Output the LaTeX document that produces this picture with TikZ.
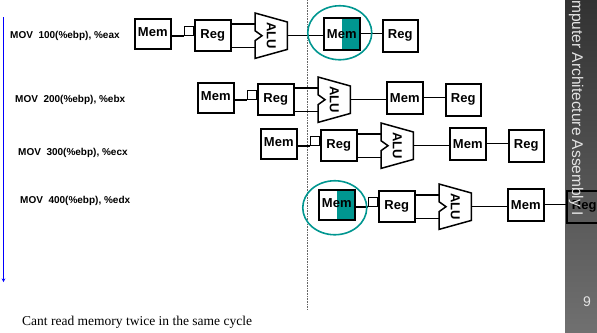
\documentclass[tikz,border=0pt]{standalone}
\usepackage{fontspec}
\setmainfont{Liberation Serif}
\setsansfont{Liberation Sans}
\usepackage{graphicx}
\usetikzlibrary{calc,shapes.geometric,arrows.meta}
\definecolor{tealc}{RGB}{0,150,144}
\definecolor{sidetop}{RGB}{50,50,50}
\definecolor{sidebot}{RGB}{112,112,112}
\definecolor{sidetext}{RGB}{228,228,228}
\newcommand\boxfont{\sffamily\bfseries\fontsize{13bp}{15bp}\selectfont}
\newcommand\instrfont{\sffamily\bfseries\fontsize{10bp}{12bp}\selectfont}
\tikzset{
  box/.style={draw, line width=1.5bp, minimum width=36bp, minimum height=31bp,
    inner sep=0pt, anchor=north west, font=\boxfont},
  hot/.style={path picture={\fill[tealc] (path picture bounding box.north)
    rectangle (path picture bounding box.south east);}},
  sqbox/.style={draw, line width=1.3bp, minimum width=9bp, minimum height=9bp, inner sep=0pt},
  alubox/.style={minimum width=32bp, minimum height=45bp, inner sep=0pt,
    anchor=north west, font=\boxfont},
  wire/.style={line width=1.3bp},
  aluline/.style={line width=1.5bp, line join=miter},
  hring/.style={draw=tealc, line width=1.6bp, ellipse, minimum width=64bp,
    minimum height=54bp, inner sep=0pt},
  instr/.style={anchor=west, inner sep=0pt, font=\instrfont},
}
\newcommand\pipeline[5]{%
  \node[box, minimum height=30bp, #4] (#1ma) at (#2,#3) {\raisebox{2.5bp}{Mem}};
  \node[box] (#1ra) at ({#2+60},{#3+1}) {Reg};
  \node[sqbox, anchor=south east] (#1sq) at ($(#1ra.north west)+(0,17)$) {};
  \node[alubox] (#1alu) at ({#2+121},{#3-5}) {\rotatebox{-90}{ALU}};
  \node[box, minimum height=32bp, #5] (#1mb) at ({#2+189},{#3-1}) {Mem};
  \node[box, minimum width=35bp, minimum height=32bp] (#1rb) at ({#2+248},{#3+1}) {Reg};
  \draw[wire] ($(#1ma.north east)+(0,18)$) -- (#1sq.south west);
  \path ($(#1ra.north east)+(0,5)$) coordinate (#1o1)
        ($(#1ra.south east)+(0,-4)$) coordinate (#1o2);
  \draw[wire] (#1o1) -- (#1o1 -| #1alu.west);
  \draw[wire] (#1o2) -- (#1o2 -| #1alu.west);
  \draw[aluline] (#1alu.north west) -- ($(#1alu.north east)+(0,9)$)
    -- ($(#1alu.south east)+(0,-9)$) -- (#1alu.south west)
    -- ($(#1alu.west)+(0,5)$) -- ($(#1alu.west)+(7,0)$)
    -- ($(#1alu.west)+(0,-5)$) -- cycle;
  \draw[wire] (#1alu.east) -- (#1alu.east -| #1mb.west);
  \draw[wire] (#1mb.east) -- (#1mb.east -| #1rb.west);
}
\begin{document}
\begin{tikzpicture}[x=1bp, y=-1bp]
  \useasboundingbox (0,0) rectangle (597,332);
  \clip (0,0) rectangle (597,332);
  % sidebar background
  \shade[top color=sidetop, bottom color=sidebot] (565,0) rectangle (597,332);
  % time arrow
  \coordinate (tatop) at (3.5,17);
  \coordinate (tabot) at (3.5,282);
  \draw[blue, line width=1.6bp, -{Stealth[length=3.5bp,width=3.5bp]}] (tatop) -- (tabot);
  % cycle divider
  \coordinate (dtop) at (307,0);
  \coordinate (dbot) at (307,310);
  \draw[gray!80!black, line width=0.6bp, dash pattern=on 0.8bp off 0.8bp] (dtop) -- (dbot);
  % instructions
  \node[instr] (i1) at (10,36) {MOV\ \ 100(\%ebp), \%eax};
  \node[instr] (i2) at (15,100) {MOV\ \ 200(\%ebp), \%ebx};
  \node[instr] (i3) at (18,153) {MOV\ \ 300(\%ebp), \%ecx};
  \node[instr] (i4) at (20,201) {MOV\ \ 400(\%ebp), \%edx};
  % pipelines
  \pipeline{p1}{134}{18}{}{hot}
  \pipeline{p2}{197}{82}{}{}
  \pipeline{p3}{260}{128}{}{}
  \pipeline{p4}{318}{189}{hot}{}
  % conflict rings
  \node[hring] (ring1) at ($(p1mb.center)+(-2,-1)$) {};
  \node[hring] (ring4) at ($(p4ma.center)+(-2,3)$) {};
  % caption
  \node[anchor=base west, inner sep=0pt, font=\fontsize{13.5bp}{16bp}\selectfont]
    (cap) at (22,325) {Cant read memory twice in the same cycle};
  % sidebar text
  \node[rotate=-90, anchor=base east, inner sep=0pt, text=sidetext,
    font=\sffamily\fontsize{15.5bp}{18bp}\selectfont] (side) at (572,216)
    {Computer Architecture Assembly I};
  \node[text=sidetext, inner sep=0pt, font=\sffamily\fontsize{14bp}{16bp}\selectfont]
    (pg) at (587,302) {9};
\end{tikzpicture}
\end{document}
